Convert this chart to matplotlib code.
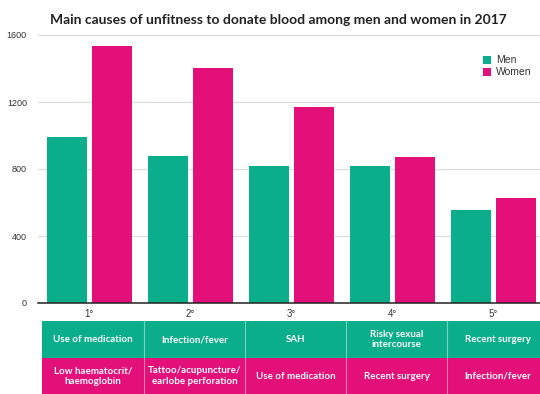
import numpy as np
import matplotlib
matplotlib.use('Agg')
import matplotlib.pyplot as plt
from matplotlib.patches import Rectangle

# Ranking positions and counts per sex
ranks = ['1°', '2°', '3°', '4°', '5°']
men = [990, 875, 820, 820, 555]
women = [1535, 1405, 1168, 870, 625]

# Cause behind each ranking position
men_causes = ['Use of medication', 'Infection/fever', 'SAH',
              'Risky sexual\nintercourse', 'Recent surgery']
women_causes = ['Low haematocrit/\nhaemoglobin',
                'Tattoo/acupuncture/\nearlobe perforation',
                'Use of medication', 'Recent surgery', 'Infection/fever']

GREEN = '#0aae8b'
PINK = '#e3107a'

W, H = 540, 394
fig = plt.figure(figsize=(W / 100, H / 100), dpi=100)

x = np.arange(len(ranks))
xlim = (-0.507, -0.507 + 502 / 101)

# bar chart
ax = fig.add_axes([38 / W, (H - 303) / H, 502 / W, 271.35 / H])
bw = 0.396
ax.bar(x - 0.2225, men, bw, color=GREEN, label='Men', zorder=3)
ax.bar(x + 0.2225, women, bw, color=PINK, label='Women', zorder=3)
ax.set_xlim(*xlim)
ax.set_ylim(0, 1620)
ax.set_yticks([0, 400, 800, 1200, 1600])
ax.set_xticks(x)
ax.set_xticklabels(ranks)
ax.grid(axis='y', color='#dddddd', linewidth=0.9, zorder=0)
for s in ['top', 'right', 'left']:
    ax.spines[s].set_visible(False)
ax.spines['bottom'].set_color('#222222')
ax.spines['bottom'].set_linewidth(1.1)
ax.spines['bottom'].set_zorder(4)
ax.tick_params(axis='y', length=0, pad=8, labelsize=6.5, labelcolor='#333333')
ax.tick_params(axis='x', length=0, pad=4, labelsize=7, labelcolor='#333333')
for lab in ax.get_xticklabels() + ax.get_yticklabels():
    lab.set_fontfamily('Liberation Sans')

leg = ax.legend(loc='upper left', bbox_to_anchor=(474 / W, 1 - 46 / H),
                bbox_transform=fig.transFigure, frameon=False,
                handlelength=0.75, handleheight=0.75, handletextpad=0.45,
                labelspacing=0.2, prop={'family': 'Liberation Sans', 'size': 7.5})
for t in leg.get_texts():
    t.set_color('#333333')

fig.text(278.5 / W, 1 - 20 / H,
         'Main causes of unfitness to donate blood among men and women in 2017',
         ha='center', va='center', fontsize=10, fontweight='bold',
         family='Lato', color='#222222')

# table of causes under the bars
tab = fig.add_axes([38 / W, 0, 502 / W, 73 / H])
tab.set_xlim(*xlim)
tab.set_ylim(0, 1)
tab.axis('off')
split = 0.49
for i in x:
    left = i - 0.465 if i == 0 else i - 0.455
    right = i + 0.545
    tab.add_patch(Rectangle((left, split), right - left, 1 - split,
                            facecolor=GREEN, edgecolor='none'))
    tab.add_patch(Rectangle((left, 0), right - left, split,
                            facecolor=PINK, edgecolor='none'))
    if i > 0:
        tab.plot([left, left], [0, 1], color='white', alpha=0.45,
                 linewidth=0.8)
    cx = (left + right) / 2
    tab.text(cx, (1 + split) / 2, men_causes[i], ha='center', va='center',
             color='white', fontsize=7, fontweight='bold', family='Lato',
             linespacing=1.2)
    tab.text(cx, split / 2, women_causes[i], ha='center', va='center',
             color='white', fontsize=7, fontweight='bold', family='Lato',
             linespacing=1.2)

fig.savefig('out.png', dpi=100)
